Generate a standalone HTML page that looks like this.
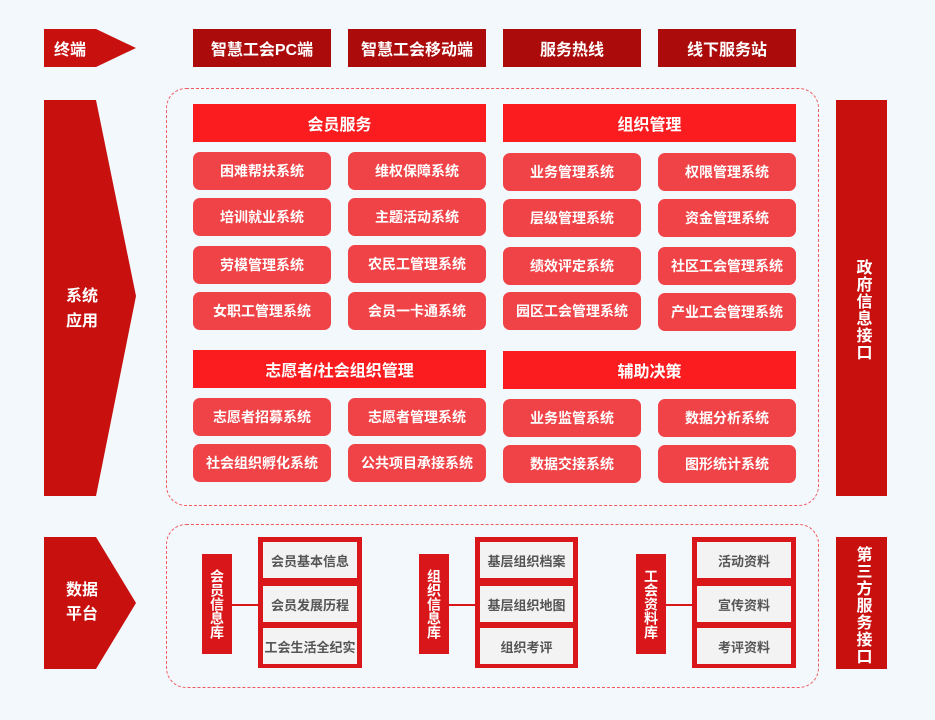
<!DOCTYPE html><html><head><meta charset="utf-8"><style>
body{margin:0;width:935px;height:720px;background:#f3f8fc;font-family:"Liberation Sans","Noto Sans CJK SC",sans-serif;position:relative;overflow:hidden}
.a{position:absolute;display:flex;align-items:center;justify-content:center;color:#fff;font-weight:bold}
.t{background:#ab0b0b;font-size:16px;top:29px;height:38px;width:138px}
.h{background:#fa1c1f;font-size:16px;height:38px;width:293px}
.i{background:#f04347;font-size:14px;height:38px;width:138px;border-radius:7px}
.d{position:absolute;border:1.5px dashed #f05a5d;border-radius:20px;left:166px;width:651px}
.v{background:#c8100f;font-size:16px;writing-mode:vertical-rl;letter-spacing:1px;box-sizing:border-box}
.l{background:#d9161a;width:30px;top:554px;height:100px;font-size:14px;writing-mode:vertical-rl;line-height:1}
.g{position:absolute;top:537px;height:131px;background:#d9161a;width:104px}
.g div{position:absolute;left:5px;width:calc(100% - 10px);height:36px;background:#f3f3f3;color:#555;font-size:13px;font-weight:bold;display:flex;align-items:center;justify-content:center}
.ln{position:absolute;top:604px;height:1.5px;background:#d9161a}
</style></head><body>
<svg style="position:absolute;left:0;top:0" width="935" height="720">
<polygon points="44,29 96,29 136,48 96,67 44,67" fill="#c8100f"/>
<polygon points="44,100 96,100 136,296 96,496 44,496" fill="#c8100f"/>
<polygon points="44,537 96,537 136,603 96,669 44,669" fill="#c8100f"/>
</svg>
<div class="a" style="left:44px;top:29px;width:52px;height:38px;font-size:16px;justify-content:flex-start;padding-left:10px;box-sizing:border-box">终端</div>
<div class="a" style="left:44px;top:284px;width:76px;height:50px;font-size:16px;line-height:25px;text-align:center">系统<br>应用</div>
<div class="a" style="left:44px;top:578px;width:76px;height:50px;font-size:16px;line-height:24px;text-align:center">数据<br>平台</div>
<div class="a t" style="left:193px">智慧工会PC端</div>
<div class="a t" style="left:348px">智慧工会移动端</div>
<div class="a t" style="left:503px">服务热线</div>
<div class="a t" style="left:658px">线下服务站</div>
<div class="d" style="top:88px;height:416px"></div>
<div class="d" style="top:524px;height:162px"></div>
<div class="a v" style="left:836px;top:100px;width:51px;height:396px;padding-top:24px">政府信息接口</div>
<div class="a v" style="left:836px;top:537px;width:51px;height:132px;padding-top:4px">第三方服务接口</div>
<div class="a h" style="left:193px;top:104px">会员服务</div>
<div class="a h" style="left:503px;top:104px">组织管理</div>
<div class="a h" style="left:193px;top:350px">志愿者/社会组织管理</div>
<div class="a h" style="left:503px;top:351px">辅助决策</div>
<div class="a i" style="left:193px;top:152px">困难帮扶系统</div>
<div class="a i" style="left:348px;top:152px">维权保障系统</div>
<div class="a i" style="left:503px;top:153px">业务管理系统</div>
<div class="a i" style="left:658px;top:153px">权限管理系统</div>
<div class="a i" style="left:193px;top:198px">培训就业系统</div>
<div class="a i" style="left:348px;top:198px">主题活动系统</div>
<div class="a i" style="left:503px;top:199px">层级管理系统</div>
<div class="a i" style="left:658px;top:199px">资金管理系统</div>
<div class="a i" style="left:193px;top:246px">劳模管理系统</div>
<div class="a i" style="left:348px;top:245px">农民工管理系统</div>
<div class="a i" style="left:503px;top:247px">绩效评定系统</div>
<div class="a i" style="left:658px;top:247px">社区工会管理系统</div>
<div class="a i" style="left:193px;top:292px">女职工管理系统</div>
<div class="a i" style="left:348px;top:292px">会员一卡通系统</div>
<div class="a i" style="left:503px;top:292px">园区工会管理系统</div>
<div class="a i" style="left:658px;top:293px">产业工会管理系统</div>
<div class="a i" style="left:193px;top:398px">志愿者招募系统</div>
<div class="a i" style="left:348px;top:398px">志愿者管理系统</div>
<div class="a i" style="left:503px;top:399px">业务监管系统</div>
<div class="a i" style="left:658px;top:399px">数据分析系统</div>
<div class="a i" style="left:193px;top:444px">社会组织孵化系统</div>
<div class="a i" style="left:348px;top:444px">公共项目承接系统</div>
<div class="a i" style="left:503px;top:445px">数据交接系统</div>
<div class="a i" style="left:658px;top:445px">图形统计系统</div>
<div class="a l" style="left:202px">会员信息库</div>
<div class="ln" style="left:232px;width:26px"></div>
<div class="g" style="left:258px"><div style="top:5px">会员基本信息</div><div style="top:49px">会员发展历程</div><div style="top:91px">工会生活全纪实</div></div>
<div class="a l" style="left:419px">组织信息库</div>
<div class="ln" style="left:449px;width:26px"></div>
<div class="g" style="left:475px;width:103px"><div style="top:5px">基层组织档案</div><div style="top:49px">基层组织地图</div><div style="top:91px">组织考评</div></div>
<div class="a l" style="left:636px">工会资料库</div>
<div class="ln" style="left:666px;width:26px"></div>
<div class="g" style="left:692px"><div style="top:5px">活动资料</div><div style="top:49px">宣传资料</div><div style="top:91px">考评资料</div></div>
</body></html>
